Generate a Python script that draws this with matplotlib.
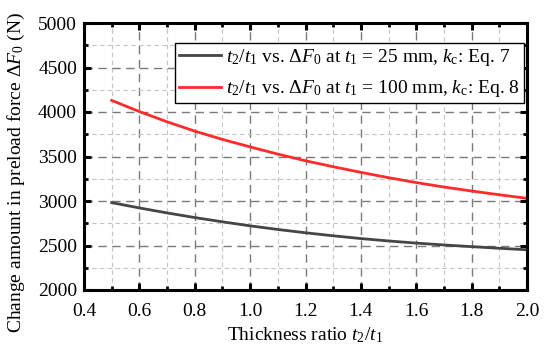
import matplotlib
matplotlib.use("Agg")
import matplotlib.pyplot as plt
from matplotlib.ticker import MultipleLocator

# ─────────────────────────────────────────────────────────────
# Data
# ─────────────────────────────────────────────────────────────
ratio = [0.5, 0.6, 0.7, 0.8, 0.9, 1.0, 1.1, 1.2, 1.3, 1.4, 1.5, 1.6, 1.7, 1.8, 1.9, 2.0]
force_t25 = [2982, 2922, 2866, 2814, 2766, 2721, 2680, 2643, 2609, 2578,
             2551, 2527, 2506, 2487, 2469, 2452]
force_t100 = [4130, 4005, 3890, 3785, 3692, 3608, 3527, 3452, 3385, 3322,
              3262, 3207, 3157, 3112, 3070, 3030]

label_t25 = r"$t_2/t_1$ vs. $\Delta F_0$ at $t_1$ = 25 mm, $k_\mathrm{c}$: Eq. 7"
label_t100 = r"$t_2/t_1$ vs. $\Delta F_0$ at $t_1$ = 100 mm, $k_\mathrm{c}$: Eq. 8"

# ─────────────────────────────────────────────────────────────
# Fonts: Times-like serif for text and math
# ─────────────────────────────────────────────────────────────
plt.rcParams["font.family"] = ["Liberation Serif", "DejaVu Serif"]
plt.rcParams["mathtext.fontset"] = "custom"
plt.rcParams["mathtext.rm"] = "Liberation Serif"
plt.rcParams["mathtext.it"] = "Liberation Serif:italic"
plt.rcParams["font.size"] = 14

fig = plt.figure(figsize=(5.5, 3.51), dpi=100)
ax = fig.add_axes([84 / 550, 1 - 290 / 351, (527 - 84) / 550, (290 - 23) / 351])

ax.plot(ratio, force_t25, color="#454545", linewidth=2.0, label=label_t25)
ax.plot(ratio, force_t100, color="#ff2a2a", linewidth=2.0, label=label_t100)

ax.set_xlim(0.4, 2.0)
ax.set_ylim(2000, 5000)
ax.xaxis.set_major_locator(MultipleLocator(0.2))
ax.xaxis.set_minor_locator(MultipleLocator(0.1))
ax.yaxis.set_major_locator(MultipleLocator(500))
ax.yaxis.set_minor_locator(MultipleLocator(250))
ax.xaxis.set_major_formatter(plt.FuncFormatter(lambda v, p: f"{v:.1f}"))

# ─────────────────────────────────────────────────────────────
# Grid, ticks and frame
# ─────────────────────────────────────────────────────────────
ax.grid(which="major", color="#7a7a7a", linestyle=(0, (6, 4)), linewidth=1.0)
ax.grid(which="minor", color="#c4c4c4", linestyle=(0, (4, 3)), linewidth=0.8)
ax.set_axisbelow(True)
for s in ax.spines.values():
    s.set_linewidth(2.2)
ax.tick_params(which="both", direction="in", top=True, right=True)
ax.tick_params(which="major", length=5, width=2.2, labelsize=14, pad=5)
ax.tick_params(which="minor", length=3, width=2.0)
ax.tick_params(axis="x", which="major", pad=9)

ax.set_xlabel(r"Thickness ratio $t_2/t_1$", fontsize=14, labelpad=4)
ax.set_ylabel(r"Change amount in preload force $\Delta F_0$ (N)", fontsize=14)
ax.yaxis.set_label_coords(-0.128, 0.44)

leg = ax.legend(loc="upper right", bbox_to_anchor=(0.993, 0.926), fontsize=14,
                fancybox=False, framealpha=1, edgecolor="black",
                handlelength=2.2, handletextpad=0.25, borderpad=0.2,
                labelspacing=0.55, borderaxespad=0)
leg.get_frame().set_linewidth(1.0)

plt.savefig("out.png", dpi=100)
